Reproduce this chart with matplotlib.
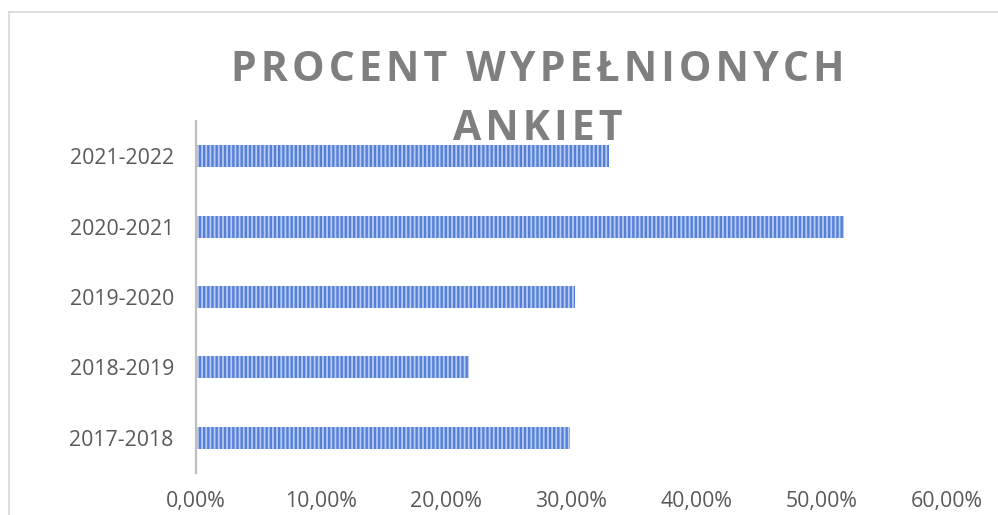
import matplotlib.pyplot as plt
from matplotlib.lines import Line2D
from matplotlib.ticker import FuncFormatter, MultipleLocator

# dane z wykresu
lata = ['2017-2018', '2018-2019', '2019-2020', '2020-2021', '2021-2022']
procent = [0.299, 0.218, 0.303, 0.518, 0.330]
tytul = ['PROCENT WYPEŁNIONYCH', 'ANKIET']

plt.rcParams['font.family'] = ['Open Sans', 'DejaVu Sans']
plt.rcParams['hatch.linewidth'] = 1.3

fig = plt.figure(figsize=(9.98, 5.15), dpi=100)
ax = fig.add_axes([196 / 998, 1 - 473 / 515, 751 / 998, 352 / 515])

ax.barh(lata, procent, height=0.31, color='#5680d8', edgecolor='#b6cbf3',
        linewidth=0, hatch='||||')

ax.set_xlim(0, 0.6)
ax.set_ylim(-0.5, 4.5)
ax.xaxis.set_major_locator(MultipleLocator(0.1))
ax.xaxis.set_major_formatter(FuncFormatter(lambda v, p: f'{v * 100:.2f}%'.replace('.', ',')))
ax.tick_params(axis='both', length=0, labelsize=15.3, labelcolor='#595959')
ax.tick_params(axis='x', pad=13)
ax.tick_params(axis='y', pad=16)

for s in ['top', 'right', 'bottom']:
    ax.spines[s].set_visible(False)
ax.spines['left'].set_color('#bfbfbf')
ax.spines['left'].set_linewidth(1.6)

# tytuł z rozstrzelonymi literami
for i, linia in enumerate(tytul):
    y = [1 - 81 / 515, 1 - 140 / 515][i]
    fig.text(538 / 998, y, '\u200a'.join(linia), ha='center', va='baseline',
             fontsize=29.5, fontweight='bold', color='#7f7f7f')

# ramka wykresu
fig.add_artist(Line2D([9 / 998, 1], [1 - 12 / 515] * 2, transform=fig.transFigure,
                      color='#d9d9d9', linewidth=1.2))
fig.add_artist(Line2D([9 / 998] * 2, [0, 1 - 12 / 515], transform=fig.transFigure,
                      color='#d9d9d9', linewidth=1.2))

fig.savefig('out.png', dpi=100)
